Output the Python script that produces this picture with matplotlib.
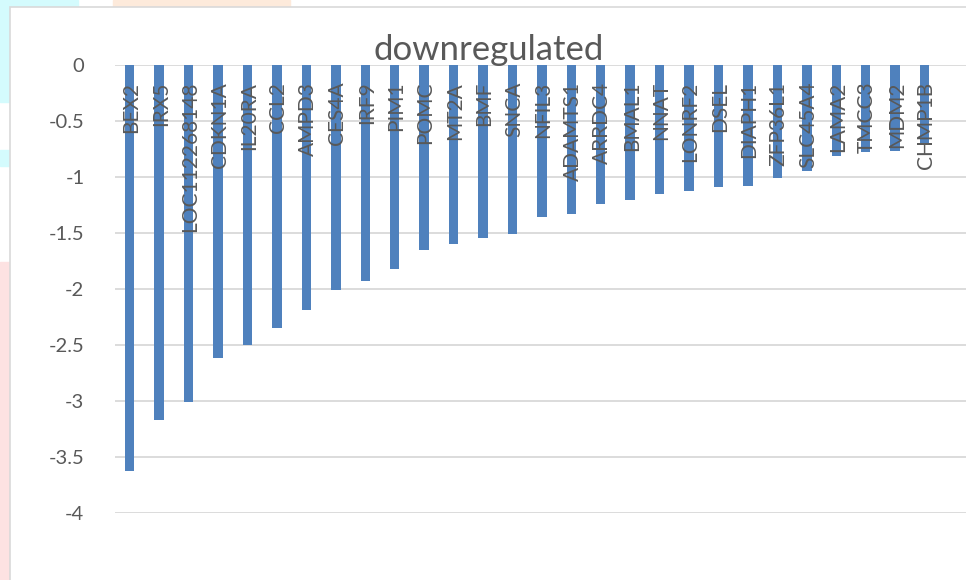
import matplotlib
matplotlib.use("Agg")
import matplotlib.pyplot as plt
from matplotlib.patches import Rectangle

genes = ["BEX2", "IRX5", "LOC112268148", "CDKN1A", "IL20RA", "CCL2", "AMPD3",
         "CES4A", "IRF9", "PIM1", "POMC", "MT2A", "BMF", "SNCA", "NFIL3",
         "ADAMTS1", "ARRDC4", "BMAL1", "NNAT", "LONRF2", "DSEL", "DIAPH1",
         "ZFP36L1", "SLC45A4", "LAMA2", "TMCC3", "MDM2", "CHMP1B"]
log_fc = [-3.63, -3.17, -3.01, -2.62, -2.50, -2.35, -2.19,
          -2.01, -1.93, -1.82, -1.65, -1.60, -1.55, -1.51, -1.36,
          -1.33, -1.245, -1.21, -1.15, -1.13, -1.09, -1.08,
          -1.01, -0.95, -0.81, -0.775, -0.765, -0.70]
yticks = [0, -0.5, -1, -1.5, -2, -2.5, -3, -3.5, -4]

W, H = 966, 580
BLUE, GRID, TXT = "#4f81bd", "#d9d9d9", "#595959"
plt.rcParams["font.family"] = ["Lato", "DejaVu Sans"]

fig = plt.figure(figsize=(W / 100, H / 100), dpi=100)

# slide background bits peeking out round the chart frame
def px_rect(x0, y0, x1, y1, color):
    fig.patches.append(Rectangle((x0 / W, 1 - y1 / H), (x1 - x0) / W, (y1 - y0) / H,
                                 transform=fig.transFigure, color=color, zorder=0))

px_rect(0, 0, 10, 102, "#d4fbfd")
px_rect(0, 0, 78, 7, "#d4fbfd")
px_rect(0, 150, 10, 166, "#d4fbfd")
px_rect(113, 0, 290, 7, "#fdeadb")
px_rect(0, 262, 10, 580, "#fde2e2")
fig.patches.append(Rectangle((10 / W, -0.01), 1.0, 1 - 7 / H + 0.01,
                             transform=fig.transFigure, facecolor="white",
                             edgecolor=GRID, lw=1.2, zorder=1))

ax = fig.add_axes([115 / W, 1 - 512.7 / H, (W - 115) / W, (512.7 - 65) / H])
ax.set_zorder(3)
ax.set_facecolor("none")
x = list(range(len(genes)))
ax.bar(x, log_fc, width=0.32, color=BLUE, zorder=2)
ax.set_xlim(-0.5, -0.5 + (W - 115) / 29.44)
ax.set_ylim(-4, 0)
ax.set_yticks(yticks)
ax.set_yticklabels([f"{t:g}" for t in yticks])
ax.yaxis.grid(True, color=GRID, lw=1.3, zorder=1)
ax.set_axisbelow(True)
ax.tick_params(axis="y", length=0, pad=22, labelsize=14.5, labelcolor=TXT)
ax.set_xticks([])
for s in ax.spines.values():
    s.set_visible(False)

for i, g in enumerate(genes):
    ax.text(i + 0.05, -0.15, g, rotation=90, ha="center", va="top",
            fontsize=15, color=TXT, zorder=3)

t = fig.text(489 / W, 1 - 50 / H, "downregulated", ha="center", va="center",
             fontsize=25, color=TXT)
t.set_zorder(4)

fig.savefig("out.png", dpi=100)
